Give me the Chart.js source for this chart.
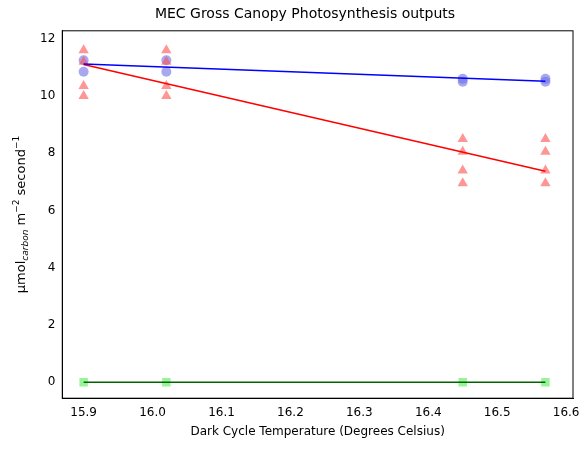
<!DOCTYPE html><html><head><script src="https://cdn.jsdelivr.net/npm/chart.js@4"></script>
<style>body{margin:0;background:#fff}#w{width:584px;height:453px}</style></head><body><div id="w"><canvas id="c"></canvas></div>
<script>
const temps=[15.9,16.02,16.45,16.57];
const redVals=[[11.6,11.2,10.35,10.0],[11.6,11.2,10.35,10.0],[8.5,8.05,7.4,6.95],[8.5,8.05,7.4,6.95]];
const blueVals=[[11.25,10.85],[11.25,10.85],[10.6,10.5],[10.6,10.5]];
const greenVals=[[0],[0],[0],[0]];
const redFit=[11.1,7.37];
const blueFit=[11.12,10.52];
const greenFit=[0,0];
const xTicks=[15.9,16.0,16.1,16.2,16.3,16.4,16.5,16.6];
function pts(v){const o=[];v.forEach((a,i)=>a.forEach(y=>o.push({x:temps[i],y})));return o;}
function fit(f){return [{x:temps[0],y:f[0]},{x:temps[3],y:f[1]}];}
const ylab={id:'ylab',afterDraw(ch){const c=ch.ctx,a=ch.chartArea;c.save();c.strokeStyle='#000';c.lineWidth=1;c.strokeRect(a.left,a.top,a.right-a.left,a.bottom-a.top);
c.translate(22,(a.top+a.bottom)/2);c.rotate(-Math.PI/2);c.fillStyle='#000';
const parts=[['μmol',13,0],['carbon',9,4,'italic '],[' m',13,0],['−2',9,-5],[' second',13,0],['−1',9,-5]];
let w=0;parts.forEach(p=>{c.font=(p[3]||'')+p[1]+'px "DejaVu Sans"';w+=c.measureText(p[0]).width;});
let x=-w/2;c.textBaseline='middle';parts.forEach(p=>{c.font=(p[3]||'')+p[1]+'px "DejaVu Sans"';c.fillText(p[0],x,p[2]);x+=c.measureText(p[0]).width;});c.restore();}};
Chart.defaults.font.family='"DejaVu Sans"';Chart.defaults.color='#000';
new Chart(document.getElementById('c'),{type:'scatter',plugins:[ylab],data:{datasets:[
{data:fit(blueFit),type:'line',borderColor:'#0000ff',borderWidth:1.5,pointRadius:0,order:0},
{data:fit(redFit),type:'line',borderColor:'#ff0000',borderWidth:1.5,pointRadius:0,order:0},
{data:fit(greenFit),type:'line',borderColor:'#006400',borderWidth:1.5,pointRadius:0,order:0},
{data:pts(redVals),pointStyle:'triangle',pointRadius:6,backgroundColor:'rgba(255,80,80,0.6)',borderWidth:0,order:1},
{data:pts(blueVals),pointStyle:'circle',pointRadius:5,backgroundColor:'rgba(110,110,230,0.6)',borderWidth:0,order:1},
{data:pts(greenVals),pointStyle:'rect',pointRadius:6,backgroundColor:'rgba(110,240,110,0.7)',borderWidth:0,order:1}
]},options:{animation:false,responsive:true,maintainAspectRatio:false,layout:{padding:{left:37,right:11,top:0,bottom:10}},
plugins:{legend:{display:false},tooltip:{enabled:false},title:{display:true,text:'MEC Gross Canopy Photosynthesis outputs',font:{size:14,weight:'normal'},padding:{top:6,bottom:8}}},
scales:{x:{type:'linear',min:15.869,max:16.61,afterBuildTicks(s){s.ticks=xTicks.map(v=>({value:v}));},ticks:{callback:v=>v.toFixed(1),font:{size:12}},grid:{display:false,drawTicks:true,tickLength:4},border:{color:'#000'},title:{display:true,text:'Dark Cycle Temperature (Degrees Celsius)',font:{size:12},padding:{top:2}}},
y:{min:-0.56,max:12.28,afterBuildTicks(s){s.ticks=[0,2,4,6,8,10,12].map(v=>({value:v}));},ticks:{font:{size:12}},grid:{display:false,tickLength:4},border:{color:'#000'}}}}});
</script></body></html>
